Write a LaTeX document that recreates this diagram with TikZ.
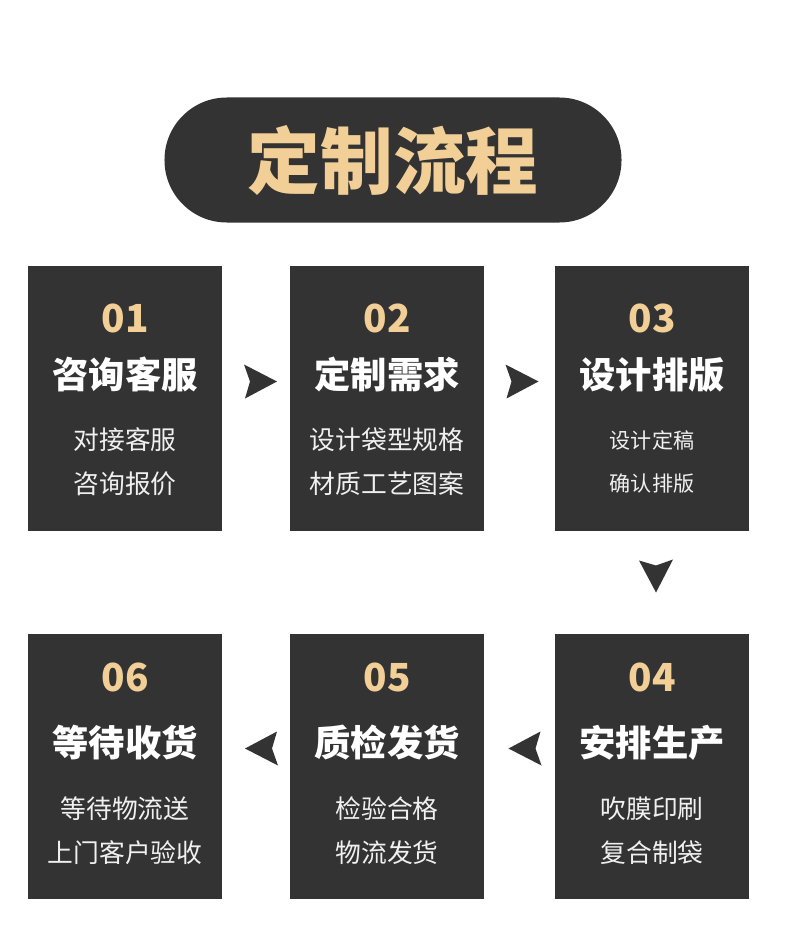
\documentclass[tikz,border=0pt]{standalone}
\usepackage{fontspec}
\usepackage{tikz}
\usetikzlibrary{calc}
\newfontfamily\cjk{Noto Sans CJK SC}
\definecolor{boxgray}{HTML}{333333}
\definecolor{gold}{HTML}{F1CF97}
\definecolor{subwhite}{HTML}{F0F0F0}

\begin{document}
\begin{tikzpicture}[x=0.03cm, y=-0.03cm,
    every node/.style={font=\cjk, inner sep=0pt},
    pill/.style={fill=boxgray, rounded corners=1.87cm, minimum width=13.71cm, minimum height=3.75cm,
      text=gold, font=\cjk\bfseries\fontsize{62}{62}\selectfont},
    stepbox/.style={fill=boxgray, minimum width=5.82cm, minimum height=7.95cm},
    num/.style={text=gold, font=\cjk\bfseries\fontsize{33}{33}\selectfont},
    head/.style={text=white, font=\cjk\bfseries\fontsize{31}{31}\selectfont},
    sub/.style={text=subwhite, align=center, font=\cjk\fontsize{22}{37}\selectfont},
    smallsub/.style={sub, font=\cjk\fontsize{18}{37}\selectfont},
    flowarrow/.pic={\fill[boxgray] (16,0) -- (-17,-17) -- (-11,0) -- (-16,17) -- cycle;}]
  \fill[white] (0,0) rectangle (790,928);
  \useasboundingbox (0,0) rectangle (790,928);

  % title
  \node[pill] (title) at (393,160) {定制流程};

  % first row
  \node[stepbox] (s1) at (125,398.5) {};
  \node[num] (n1) at ($(s1.north)+(0,53)$) {01};
  \node[head] (h1) at ($(s1.north)+(0,109)$) {咨询客服};
  \node[sub] (t1) at ($(s1.north)+(0,196)$) {对接客服\\咨询报价};

  \node[stepbox] (s2) at (387,398.5) {};
  \node[num] (n2) at ($(s2.north)+(0,53)$) {02};
  \node[head] (h2) at ($(s2.north)+(0,109)$) {定制需求};
  \node[sub] (t2) at ($(s2.north)+(0,196)$) {设计袋型规格\\材质工艺图案};

  \node[stepbox] (s3) at (652,398.5) {};
  \node[num] (n3) at ($(s3.north)+(0,53)$) {03};
  \node[head] (h3) at ($(s3.north)+(0,109)$) {设计排版};
  \node[smallsub] (t3) at ($(s3.north)+(0,196)$) {设计定稿\\确认排版};

  % second row
  \node[stepbox] (s4) at (652,766.5) {};
  \node[num] (n4) at ($(s4.north)+(0,44)$) {04};
  \node[head] (h4) at ($(s4.north)+(0,109)$) {安排生产};
  \node[sub] (t4) at ($(s4.north)+(0,197)$) {吹膜印刷\\复合制袋};

  \node[stepbox] (s5) at (387,766.5) {};
  \node[num] (n5) at ($(s5.north)+(0,44)$) {05};
  \node[head] (h5) at ($(s5.north)+(0,109)$) {质检发货};
  \node[sub] (t5) at ($(s5.north)+(0,197)$) {检验合格\\物流发货};

  \node[stepbox] (s6) at (125,766.5) {};
  \node[num] (n6) at ($(s6.north)+(0,44)$) {06};
  \node[head] (h6) at ($(s6.north)+(0,109)$) {等待收货};
  \node[sub] (t6) at ($(s6.north)+(0,197)$) {等待物流送\\上门客户验收};

  % arrows between the steps
  \coordinate (a12) at ($(s1.east)!0.5!(s2.west)+(5,-17)$);
  \coordinate (a23) at ($(s2.east)!0.5!(s3.west)+(3,-17)$);
  \coordinate (a34) at ($(s3.south)!0.5!(s4.north)+(4,-6)$);
  \coordinate (a45) at ($(s4.west)!0.5!(s5.east)+(5,-18)$);
  \coordinate (a56) at ($(s5.west)!0.5!(s6.east)+(5,-18)$);
  \pic at (a12) {flowarrow};
  \pic at (a23) {flowarrow};
  \pic[rotate=-90] at (a34) {flowarrow};
  \pic[rotate=180] at (a45) {flowarrow};
  \pic[rotate=180] at (a56) {flowarrow};
\end{tikzpicture}
\end{document}
